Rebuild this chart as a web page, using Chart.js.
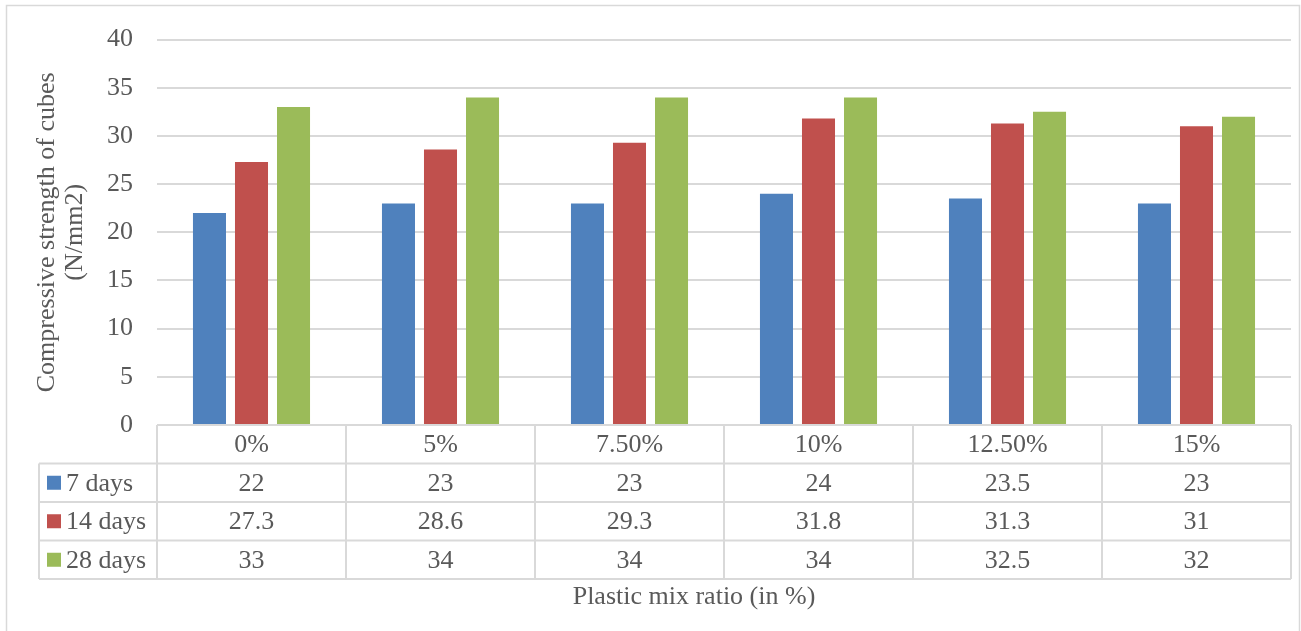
<!DOCTYPE html>
<html>
<head>
<meta charset="utf-8">
<script src="https://cdn.jsdelivr.net/npm/chart.js@4.4.1/dist/chart.umd.min.js"></script>
<style>
  html, body { margin: 0; padding: 0; background: #ffffff; }
  #wrap { width: 1301px; height: 631px; }
</style>
</head>
<body>
<div id="wrap"><canvas id="c" width="1301" height="631"></canvas></div>
<script>
// Plastic mix ratios tested
const categories = ['0%', '5%', '7.50%', '10%', '12.50%', '15%'];
// Compressive strength (N/mm2) by curing age
const days7 = [22, 23, 23, 24, 23.5, 23];
const days14 = [27.3, 28.6, 29.3, 31.8, 31.3, 31];
const days28 = [33, 34, 34, 34, 32.5, 32];
const seriesNames = ['7 days', '14 days', '28 days'];
const seriesColors = ['#4f81bd', '#c0504d', '#9bbb59'];
const yTicks = [0, 5, 10, 15, 20, 25, 30, 35, 40];

const FONT = '"Liberation Serif", "Times New Roman", serif';
const TEXT = '#595959';
const LINE = '#d9d9d9';
const FSIZE = 26;

// Data table under the plot, legend keys on the left
const dataTable = {
  id: 'dataTable',
  afterDraw(chart) {
    const ctx = chart.ctx;
    const x = chart.scales.x;
    const area = chart.chartArea;
    const rowH = 38.5;
    const n = categories.length;
    const colW = (area.right - area.left) / n;
    const keyLeft = 39;
    const top = area.bottom;
    const rows = [days7, days14, days28];
    const bottom = top + rowH * (rows.length + 1);

    ctx.save();
    ctx.strokeStyle = LINE;
    ctx.lineWidth = 2;
    ctx.beginPath();
    // header row top
    ctx.moveTo(area.left, top); ctx.lineTo(area.right, top);
    // row separators
    for (let r = 1; r <= rows.length + 1; r++) {
      const y = top + rowH * r;
      ctx.moveTo(keyLeft, y); ctx.lineTo(area.right, y);
    }
    // verticals
    ctx.moveTo(keyLeft, top + rowH); ctx.lineTo(keyLeft, bottom);
    for (let i = 0; i <= n; i++) {
      const xx = area.left + colW * i;
      ctx.moveTo(xx, top); ctx.lineTo(xx, bottom);
    }
    ctx.stroke();

    ctx.fillStyle = TEXT;
    ctx.font = FSIZE + 'px ' + FONT;
    ctx.textAlign = 'center';
    ctx.textBaseline = 'middle';
    categories.forEach((c, i) => {
      ctx.fillText(c, x.getPixelForValue(i), top + rowH / 2 + 1);
    });
    rows.forEach((vals, r) => {
      const cy = top + rowH * (r + 1) + rowH / 2 + 1;
      vals.forEach((v, i) => {
        ctx.fillText(String(v), x.getPixelForValue(i), cy);
      });
      // legend key
      ctx.fillStyle = seriesColors[r];
      ctx.fillRect(47, cy - 8, 14, 14);
      ctx.fillStyle = TEXT;
      ctx.textAlign = 'left';
      ctx.fillText(seriesNames[r], 66, cy);
      ctx.textAlign = 'center';
    });

    // horizontal axis title
    ctx.fillText('Plastic mix ratio (in %)', 694, 597);

    // chart frame
    ctx.strokeStyle = LINE;
    ctx.lineWidth = 1.5;
    ctx.strokeRect(6.5, 5.5, 1293, 640);
    ctx.restore();
  }
};

new Chart(document.getElementById('c'), {
  type: 'bar',
  data: {
    labels: categories,
    datasets: [
      { label: seriesNames[0], data: days7, backgroundColor: seriesColors[0] },
      { label: seriesNames[1], data: days14, backgroundColor: seriesColors[1] },
      { label: seriesNames[2], data: days28, backgroundColor: seriesColors[2] }
    ]
  },
  options: {
    responsive: false,
    animation: false,
    events: [],
    datasets: { bar: { categoryPercentage: 0.667, barPercentage: 0.786 } },
    layout: { padding: { left: 0, right: 10, top: 37, bottom: 206 } },
    plugins: { legend: { display: false }, tooltip: { enabled: false } },
    scales: {
      x: { display: false },
      y: {
        min: 0,
        max: 40,
        afterFit(s) { s.width = 157; },
        afterBuildTicks(s) { s.ticks = yTicks.map(v => ({ value: v })); },
        border: { display: false },
        grid: { color: LINE, lineWidth: 2, drawTicks: false },
        ticks: { padding: 24, color: TEXT, font: { family: FONT, size: FSIZE } },
        title: {
          display: true,
          text: ['Compressive strength of cubes', '(N/mm2)'],
          color: TEXT,
          font: { family: FONT, size: FSIZE, lineHeight: 1.05 },
          padding: { top: 34, bottom: 0 }
        }
      }
    }
  },
  plugins: [dataTable]
});
</script>
</body>
</html>
